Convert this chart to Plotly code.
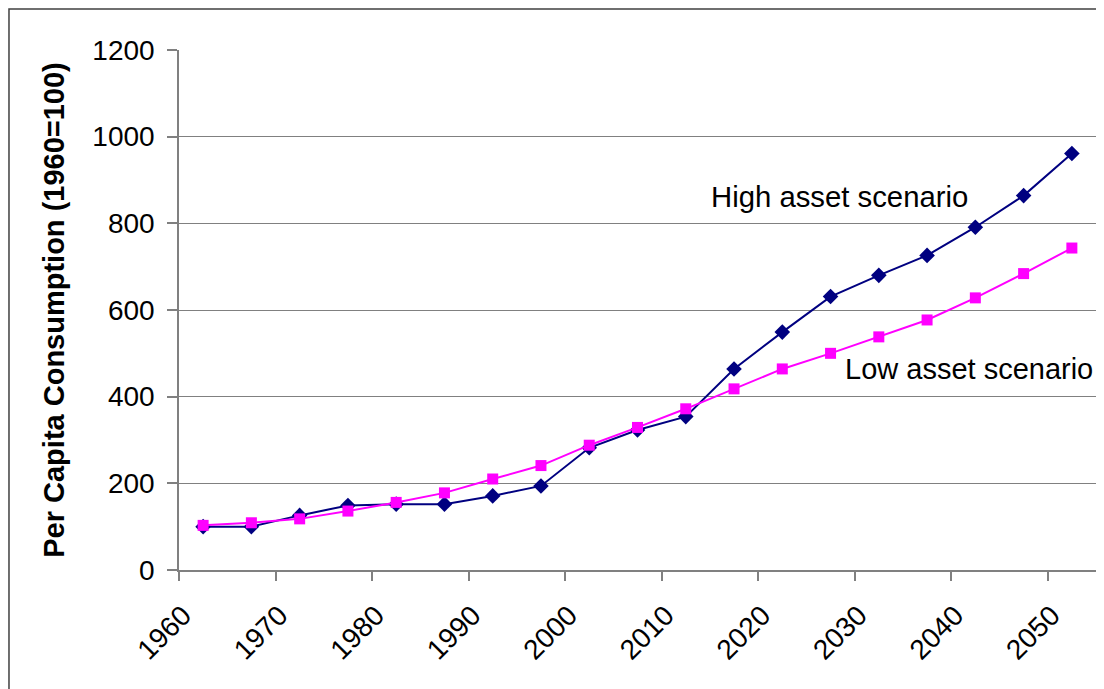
import plotly.graph_objects as go

years = [1960, 1965, 1970, 1975, 1980, 1985, 1990, 1995, 2000, 2005,
         2010, 2015, 2020, 2025, 2030, 2035, 2040, 2045, 2050]
high_asset = [100, 100, 126, 149, 152, 152, 171, 194, 282, 323,
              354, 464, 549, 631, 680, 726, 791, 864, 961]
low_asset = [103, 109, 118, 136, 156, 178, 210, 241, 288, 329,
             372, 418, 464, 500, 538, 577, 628, 684, 743]
label_years = [1960, 1970, 1980, 1990, 2000, 2010, 2020, 2030, 2040, 2050]
boundary_ticks = [1957.5, 1967.5, 1977.5, 1987.5, 1997.5, 2007.5,
                  2017.5, 2027.5, 2037.5, 2047.5]

FONT = "Liberation Sans, Arial, sans-serif"
AXIS_GREY = "#808080"

fig = go.Figure()
fig.add_trace(go.Scatter(
    x=years, y=high_asset, mode="lines+markers", name="High asset scenario",
    line=dict(color="#000080", width=2),
    marker=dict(symbol="diamond", size=12, color="#000080"),
    cliponaxis=False,
))
fig.add_trace(go.Scatter(
    x=years, y=low_asset, mode="lines+markers", name="Low asset scenario",
    line=dict(color="#FF00FF", width=2),
    marker=dict(symbol="square", size=11, color="#FF00FF"),
    cliponaxis=False,
))

fig.add_annotation(x=2012.4, y=861, text="High asset scenario", showarrow=False,
                   xanchor="left", yanchor="middle",
                   font=dict(family=FONT, size=29.3, color="black"))
fig.add_annotation(x=2026.3, y=464, text="Low asset scenario", showarrow=False,
                   xanchor="left", yanchor="middle",
                   font=dict(family=FONT, size=29, color="black"))

# outer chart-area border (cropped at right and bottom)
fig.add_shape(type="rect", xref="paper", yref="paper",
              x0=-0.1854, x1=1.2, y0=-0.5, y1=1.0788,
              line=dict(color="#404040", width=1.5), fillcolor="rgba(0,0,0,0)",
              layer="below")

fig.update_layout(
    width=1104, height=689,
    margin=dict(l=171, r=16, t=42, b=127),
    paper_bgcolor="white", plot_bgcolor="white",
    showlegend=False,
    font=dict(family=FONT, color="black"),
    xaxis=dict(
        range=[1957.5, 2052.5],
        tickmode="array", tickvals=label_years,
        ticktext=[str(y) for y in label_years],
        ticks="", tickangle=-45,
        tickfont=dict(family=FONT, size=28, color="black"),
        ticklabelshift=-20, ticklabelstandoff=16,
        showgrid=False, zeroline=False,
        showline=True, linecolor=AXIS_GREY, linewidth=1.5,
        minor=dict(tickmode="array", tickvals=boundary_ticks,
                   ticks="outside", ticklen=9, tickwidth=1.5,
                   tickcolor=AXIS_GREY, showgrid=False),
    ),
    yaxis=dict(
        range=[0, 1200], tickmode="linear", tick0=0, dtick=200,
        ticks="outside", ticklen=10, tickwidth=1.5, tickcolor=AXIS_GREY,
        tickfont=dict(family=FONT, size=28, color="black"),
        showgrid=True, gridcolor=AXIS_GREY, gridwidth=1.2,
        zeroline=False,
        showline=True, linecolor=AXIS_GREY, linewidth=1.5,
        ticklabelstandoff=7,
        title=dict(text="<b>Per Capita Consumption (1960=100)</b>",
                   font=dict(family=FONT, size=29, color="black"),
                   standoff=19),
    ),
)

fig.write_html("out.html")
